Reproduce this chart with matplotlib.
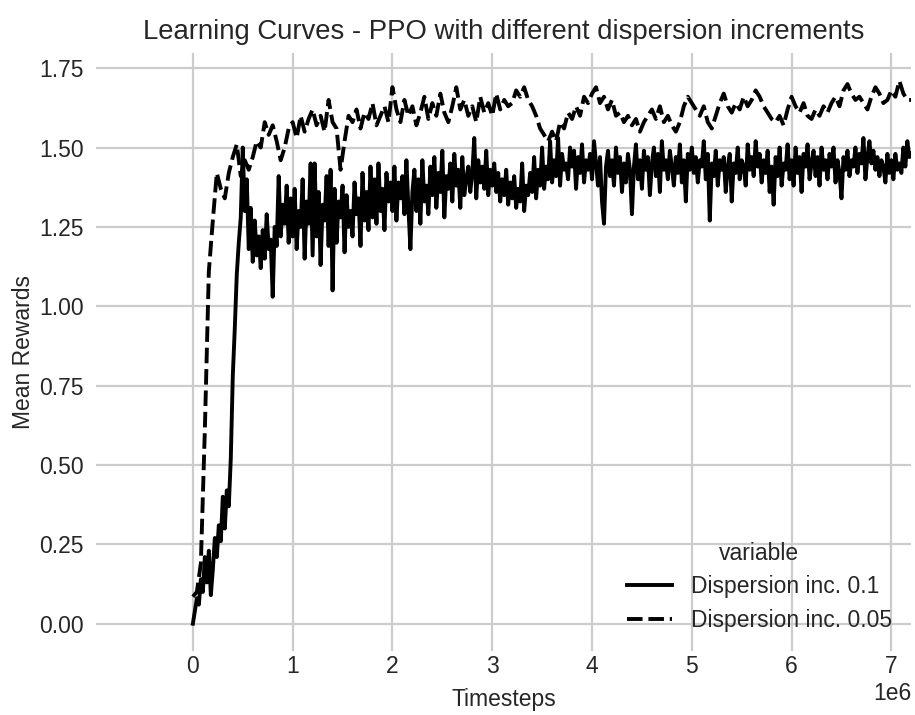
import numpy as np
import matplotlib
matplotlib.use("Agg")
import matplotlib.pyplot as plt

# Dispersion inc. 0.1 -- one value every 20k timesteps, 0 .. 7.2e6
step_01 = 20000
reward_01 = [
    0.00, 0.04, 0.08, 0.06, 0.14, 0.10, 0.21, 0.13, 0.23, 0.09,
    0.17, 0.27, 0.21, 0.31, 0.26, 0.40, 0.30, 0.42, 0.37, 0.52,
    0.78, 0.93, 1.10, 1.20, 1.28, 1.50, 1.30, 1.40, 1.18, 1.31,
    1.14, 1.27, 1.16, 1.22, 1.12, 1.24, 1.15, 1.29, 1.18, 1.21,
    1.03, 1.25, 1.19, 1.41, 1.22, 1.32, 1.26, 1.38, 1.20, 1.34,
    1.22, 1.37, 1.18, 1.30, 1.25, 1.40, 1.15, 1.33, 1.26, 1.45,
    1.16, 1.45, 1.22, 1.36, 1.13, 1.32, 1.27, 1.41, 1.19, 1.43,
    1.05, 1.37, 1.20, 1.33, 1.28, 1.38, 1.17, 1.35, 1.25, 1.30,
    1.22, 1.39, 1.29, 1.34, 1.19, 1.42, 1.27, 1.36, 1.24, 1.44,
    1.28, 1.40, 1.26, 1.45, 1.30, 1.37, 1.24, 1.42, 1.33, 1.39,
    1.30, 1.44, 1.27, 1.39, 1.34, 1.41, 1.29, 1.46, 1.31, 1.18,
    1.36, 1.43, 1.30, 1.40, 1.26, 1.46, 1.33, 1.38, 1.29, 1.44,
    1.35, 1.47, 1.31, 1.42, 1.36, 1.49, 1.28, 1.41, 1.37, 1.45,
    1.33, 1.48, 1.38, 1.43, 1.31, 1.47, 1.35, 1.40, 1.44, 1.36,
    1.42, 1.53, 1.34, 1.46, 1.39, 1.44, 1.37, 1.49, 1.35, 1.43,
    1.38, 1.45, 1.36, 1.42, 1.33, 1.40, 1.35, 1.43, 1.32, 1.39,
    1.34, 1.41, 1.31, 1.37, 1.33, 1.45, 1.30, 1.38, 1.35, 1.42,
    1.36, 1.47, 1.34, 1.43, 1.38, 1.50, 1.37, 1.44, 1.40, 1.52,
    1.39, 1.46, 1.41, 1.53, 1.38, 1.48, 1.43, 1.45, 1.40, 1.50,
    1.44, 1.49, 1.37, 1.47, 1.42, 1.51, 1.39, 1.46, 1.43, 1.48,
    1.40, 1.52, 1.45, 1.38, 1.47, 1.33, 1.26, 1.44, 1.49, 1.41,
    1.46, 1.38, 1.50, 1.42, 1.47, 1.36, 1.45, 1.39, 1.48, 1.43,
    1.29, 1.44, 1.51, 1.40, 1.46, 1.37, 1.49, 1.43, 1.47, 1.35,
    1.45, 1.50, 1.41, 1.48, 1.36, 1.52, 1.43, 1.46, 1.40, 1.49,
    1.44, 1.38, 1.47, 1.42, 1.51, 1.39, 1.46, 1.33, 1.48, 1.43,
    1.50, 1.42, 1.47, 1.39, 1.46, 1.44, 1.52, 1.40, 1.48, 1.27,
    1.45, 1.41, 1.49, 1.38, 1.46, 1.43, 1.47, 1.36, 1.44, 1.48,
    1.33, 1.45, 1.42, 1.50, 1.40, 1.46, 1.44, 1.38, 1.51, 1.43,
    1.47, 1.41, 1.52, 1.44, 1.48, 1.39, 1.46, 1.42, 1.49, 1.36,
    1.44, 1.32, 1.47, 1.41, 1.50, 1.38, 1.45, 1.43, 1.51, 1.40,
    1.46, 1.38, 1.50, 1.42, 1.47, 1.36, 1.48, 1.44, 1.51, 1.40,
    1.45, 1.49, 1.41, 1.47, 1.38, 1.50, 1.43, 1.46, 1.40, 1.48,
    1.44, 1.50, 1.39, 1.46, 1.42, 1.34, 1.47, 1.43, 1.49, 1.41,
    1.46, 1.44, 1.50, 1.42, 1.48, 1.45, 1.53, 1.40, 1.47, 1.52,
    1.45, 1.49, 1.43, 1.47, 1.41, 1.46, 1.44, 1.39, 1.48, 1.42,
    1.46, 1.40, 1.48, 1.43, 1.45, 1.42, 1.50, 1.44, 1.52, 1.47,
    1.48,
]

# Dispersion inc. 0.05 -- one value every 40k timesteps, 0 .. 7.2e6
step_005 = 40000
reward_005 = [
    0.085, 0.10, 0.19, 0.61, 1.11, 1.27, 1.42, 1.37, 1.34, 1.42,
    1.47, 1.51, 1.41, 1.46, 1.43, 1.47, 1.52, 1.50, 1.58, 1.54,
    1.57, 1.52, 1.46, 1.50, 1.56, 1.58, 1.53, 1.60, 1.55, 1.59,
    1.62, 1.57, 1.60, 1.55, 1.65, 1.58, 1.56, 1.43, 1.52, 1.60,
    1.58, 1.62, 1.56, 1.61, 1.59, 1.64, 1.57, 1.60, 1.63, 1.58,
    1.69, 1.62, 1.58, 1.65, 1.60, 1.63, 1.57, 1.61, 1.66, 1.59,
    1.64, 1.60, 1.67, 1.61, 1.58, 1.63, 1.69, 1.62, 1.65, 1.60,
    1.63, 1.58, 1.66, 1.61, 1.64, 1.60, 1.67, 1.62, 1.65, 1.63,
    1.64, 1.68, 1.66, 1.69, 1.65, 1.63, 1.60, 1.56, 1.54, 1.52,
    1.55, 1.52, 1.58, 1.56, 1.61, 1.59, 1.63, 1.60, 1.66, 1.64,
    1.67, 1.69, 1.64, 1.66, 1.62, 1.65, 1.60, 1.61, 1.58, 1.60,
    1.57, 1.59, 1.55, 1.58, 1.60, 1.62, 1.59, 1.63, 1.58, 1.60,
    1.57, 1.55, 1.58, 1.63, 1.66, 1.64, 1.62, 1.60, 1.63, 1.58,
    1.56, 1.60, 1.64, 1.67, 1.63, 1.61, 1.64, 1.62, 1.66, 1.63,
    1.65, 1.68, 1.66, 1.63, 1.61, 1.59, 1.58, 1.60, 1.57, 1.62,
    1.66, 1.63, 1.61, 1.64, 1.60, 1.59, 1.62, 1.60, 1.63, 1.61,
    1.64, 1.66, 1.63, 1.68, 1.70, 1.67, 1.65, 1.66, 1.64, 1.62,
    1.66, 1.69, 1.67, 1.64, 1.65, 1.68, 1.66, 1.71, 1.67, 1.65,
    1.65,
]

labels = ["Dispersion inc. 0.1", "Dispersion inc. 0.05"]

t_01 = np.arange(len(reward_01)) * step_01
t_005 = np.arange(len(reward_005)) * step_005

plt.rcParams["font.family"] = ["Liberation Sans", "DejaVu Sans"]
plt.rcParams["text.color"] = "#262626"
plt.rcParams["axes.labelcolor"] = "#262626"
plt.rcParams["xtick.color"] = "#262626"
plt.rcParams["ytick.color"] = "#262626"

fig = plt.figure(figsize=(9.15, 7.15), dpi=100)
ax = fig.add_axes([0.105, 0.0895, 0.891, 0.836])

ax.plot(t_01, reward_01, color="black", lw=2.8, label=labels[0])
ax.plot(t_005, reward_005, color="black", lw=2.8, dashes=(4, 1.5), label=labels[1])

ax.set_xlim(-0.97e6, 7.2e6)
ax.set_ylim(-0.086, 1.797)
ax.set_xticks(np.arange(0, 8) * 1e6)
ax.set_yticks(np.arange(0, 1.76, 0.25))
ax.yaxis.set_major_formatter(matplotlib.ticker.FormatStrFormatter("%.2f"))
ax.grid(True, color="#cccccc", lw=1.6)
ax.set_axisbelow(True)
for s in ax.spines.values():
    s.set_visible(False)
ax.tick_params(axis="y", length=0, labelsize=16.5, pad=9)
ax.tick_params(axis="x", length=0, labelsize=16.5, pad=3)
ax.xaxis.get_offset_text().set_fontsize(16.5)

ax.set_xlabel("Timesteps", fontsize=16.5, labelpad=7)
ax.set_ylabel("Mean Rewards", fontsize=16.5, labelpad=3)
ax.set_title("Learning Curves - PPO with different dispersion increments", fontsize=19.8, pad=10)

leg = ax.legend(title="variable", loc="lower right", frameon=False, fontsize=16.5,
                title_fontsize=16.5, handlelength=2.0, borderaxespad=0.45,
                labelspacing=0.45)

fig.savefig("out.png", dpi=100)
